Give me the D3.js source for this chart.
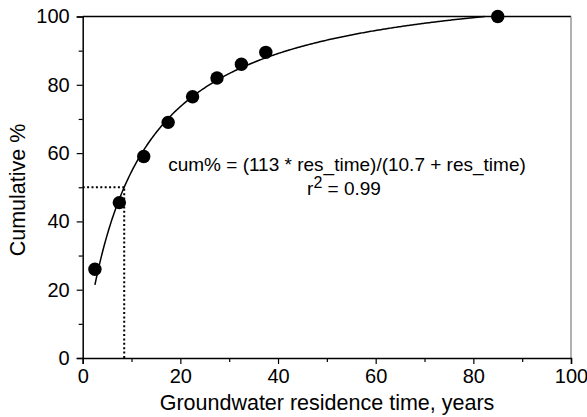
<!DOCTYPE html>
<html><head><meta charset="utf-8">
<script src="https://cdn.jsdelivr.net/npm/d3@7"></script>
<style>body{margin:0;background:#fff}text{font-family:Arial,"Liberation Sans",sans-serif}</style>
</head><body>
<script>
const resTime = [2.5, 7.5, 12.5, 17.5, 22.5, 27.5, 32.5, 37.5, 85];
const cumPct = [26, 45.5, 59, 69, 76.5, 82, 86, 89.5, 100];
const xTicks = [0, 20, 40, 60, 80, 100];
const yTicks = [0, 20, 40, 60, 80, 100];
const xMinor = [10, 30, 50, 70, 90];
const yMinor = [10, 30, 50, 70, 90];
const fitA = 113, fitB = 10.7;
const fitRange = [2.5, 82.3];
const halfT = 8.5, halfPct = 50;

const W = 587, H = 417;
const svg = d3.select("body").append("svg").attr("width", W).attr("height", H);
const x = d3.scaleLinear().domain([0, 100]).range([82.7, 571]);
const y = d3.scaleLinear().domain([0, 100]).range([358, 16.5]);

// frame top/right
svg.append("line").attr("x1", x(0)).attr("x2", x(100)).attr("y1", y(100)).attr("y2", y(100)).attr("stroke", "#000").attr("stroke-width", 1.3);
svg.append("line").attr("x1", x(100)).attr("x2", x(100)).attr("y1", y(100)).attr("y2", y(0)).attr("stroke", "#888").attr("stroke-width", 1.3);

// axes
const gx = svg.append("g").attr("transform", `translate(0,${y(0)})`)
  .call(d3.axisBottom(x).tickValues(xTicks).tickSize(6).tickPadding(5).tickFormat(d3.format("d")));
const gxm = svg.append("g").attr("transform", `translate(0,${y(0)})`)
  .call(d3.axisBottom(x).tickValues(xMinor).tickSize(4).tickFormat(""));
const gy = svg.append("g").attr("transform", `translate(${x(0)},0)`)
  .call(d3.axisLeft(y).tickValues(yTicks).tickSize(6).tickPadding(7).tickFormat(d3.format("d")));
const gym = svg.append("g").attr("transform", `translate(${x(0)},0)`)
  .call(d3.axisLeft(y).tickValues(yMinor).tickSize(4).tickFormat(""));
[gx, gxm, gy, gym].forEach(g => {
  g.select(".domain").attr("stroke", "#000").attr("stroke-width", 1.5);
  g.selectAll(".tick line").attr("stroke", "#000").attr("stroke-width", 1.2);
  g.selectAll(".tick text").attr("font-size", 20).attr("fill", "#000").attr("font-family", "Arial, 'Liberation Sans', sans-serif");
});
gxm.select(".domain").remove(); gym.select(".domain").remove();

// dotted guide lines
svg.append("line").attr("x1", x(0)).attr("x2", x(halfT)).attr("y1", y(halfPct)).attr("y2", y(halfPct))
  .attr("stroke", "#000").attr("stroke-width", 2).attr("stroke-dasharray", "2,2.4");
svg.append("line").attr("x1", x(halfT)).attr("x2", x(halfT)).attr("y1", y(0)).attr("y2", y(halfPct))
  .attr("stroke", "#000").attr("stroke-width", 2).attr("stroke-dasharray", "2,2.4");

// fit curve
const fitT = d3.range(fitRange[0], fitRange[1], 0.25).concat([fitRange[1]]);
const line = d3.line().x(t => x(t)).y(t => y(fitA * t / (fitB + t)));
svg.append("path").datum(fitT).attr("d", line).attr("fill", "none").attr("stroke", "#000").attr("stroke-width", 1.5);

// points
svg.selectAll("circle.pt").data(resTime).join("circle").attr("class", "pt")
  .attr("cx", (d) => x(d)).attr("cy", (d, i) => y(cumPct[i])).attr("r", 6.7).attr("fill", "#000");

// equation text
svg.append("text").attr("x", 347).attr("y", 171).attr("text-anchor", "middle").attr("font-size", 19)
  .text(`cum% = (${fitA} * res_time)/(${fitB} + res_time)`);
const r2 = svg.append("text").attr("x", 344).attr("y", 195).attr("text-anchor", "middle").attr("font-size", 19);
r2.append("tspan").text("r");
r2.append("tspan").attr("dy", -7).attr("font-size", 16).text("2");
r2.append("tspan").attr("dy", 7).text(" = 0.99");

// axis titles
svg.append("text").attr("x", 327).attr("y", 410).attr("text-anchor", "middle").attr("font-size", 21.5)
  .text("Groundwater residence time, years");
svg.append("text").attr("transform", `translate(25,190) rotate(-90)`).attr("text-anchor", "middle").attr("font-size", 21.5)
  .text("Cumulative %");
</script>
</body></html>
